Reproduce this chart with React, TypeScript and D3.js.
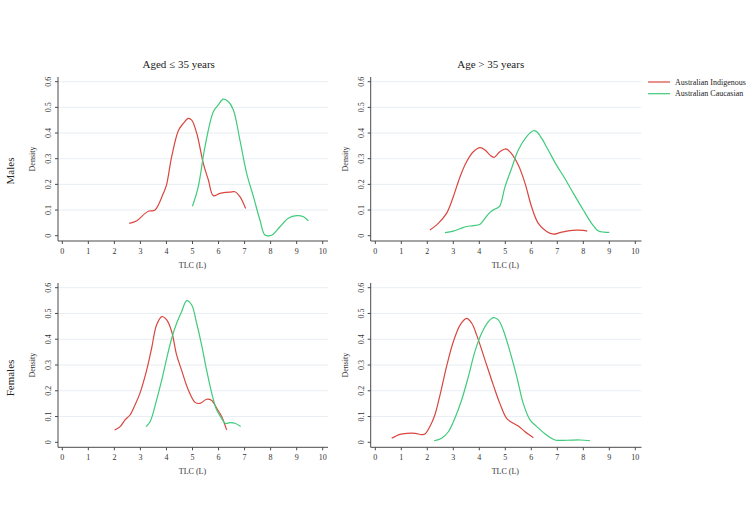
import React from "react";
import * as d3 from "d3";

type Pt = [number, number];

const xTicks = [0, 1, 2, 3, 4, 5, 6, 7, 8, 9, 10];
const yTicks = [0, 0.1, 0.2, 0.3, 0.4, 0.5, 0.6];
const columnTitles = ["Aged \u2264 35 years", "Age > 35 years"];
const rowTitles = ["Males", "Females"];
const seriesNames = ["Australian Indigenous", "Australian Caucasian"];
const seriesColors = ["#d9463f", "#3fcb7b"];

// Males, aged <= 35
const malesYoungIndigenous: Pt[] = [
  [2.57, 0.048], [2.86, 0.058], [3.18, 0.087], [3.33, 0.096], [3.56, 0.1], [3.88, 0.165],
  [4.0, 0.197], [4.2, 0.308], [4.46, 0.41], [4.65, 0.438], [4.84, 0.457], [4.97, 0.45],
  [5.16, 0.4], [5.42, 0.28], [5.61, 0.217], [5.8, 0.156], [6.05, 0.165], [6.44, 0.17],
  [6.63, 0.171], [6.82, 0.152], [7.04, 0.106],
];
const malesYoungCaucasian: Pt[] = [
  [5.0, 0.115], [5.22, 0.19], [5.48, 0.347], [5.8, 0.483], [5.99, 0.51], [6.18, 0.532],
  [6.38, 0.522], [6.57, 0.49], [6.82, 0.373], [7.08, 0.243], [7.34, 0.152], [7.59, 0.061],
  [7.78, 0.003], [7.98, 0.0], [8.1, 0.006], [8.36, 0.035], [8.68, 0.068], [9.0, 0.078],
  [9.26, 0.074], [9.45, 0.058],
];
// Males, aged > 35
const malesOldIndigenous: Pt[] = [
  [2.1, 0.022], [2.42, 0.048], [2.74, 0.087], [3.0, 0.152], [3.26, 0.23], [3.51, 0.288],
  [3.77, 0.327], [4.03, 0.343], [4.22, 0.334], [4.41, 0.314], [4.56, 0.305], [4.79, 0.327],
  [5.03, 0.338], [5.24, 0.32], [5.5, 0.275], [5.76, 0.204], [6.01, 0.113], [6.27, 0.048],
  [6.59, 0.016], [6.85, 0.006], [7.1, 0.012], [7.42, 0.019], [7.74, 0.022], [8.0, 0.021],
  [8.15, 0.018],
];
const malesOldCaucasian: Pt[] = [
  [2.68, 0.012], [3.0, 0.018], [3.26, 0.027], [3.51, 0.036], [3.77, 0.039], [4.03, 0.045],
  [4.22, 0.068], [4.41, 0.091], [4.6, 0.104], [4.77, 0.113], [4.99, 0.191], [5.24, 0.262],
  [5.5, 0.334], [5.82, 0.386], [6.08, 0.409], [6.21, 0.405], [6.4, 0.379], [6.65, 0.334],
  [6.97, 0.275], [7.29, 0.223], [7.62, 0.165], [8.0, 0.1], [8.32, 0.048], [8.58, 0.018],
  [8.8, 0.014], [9.0, 0.013],
];
// Females, aged <= 35
const femalesYoungIndigenous: Pt[] = [
  [2.01, 0.048], [2.22, 0.061], [2.41, 0.087], [2.6, 0.106], [2.79, 0.145], [2.98, 0.19],
  [3.24, 0.28], [3.43, 0.365], [3.62, 0.455], [3.82, 0.488], [4.01, 0.475], [4.2, 0.43],
  [4.39, 0.339], [4.58, 0.28], [4.84, 0.203], [5.1, 0.155], [5.29, 0.151], [5.54, 0.167],
  [5.74, 0.162], [5.93, 0.132], [6.12, 0.1], [6.31, 0.048],
];
const femalesYoungCaucasian: Pt[] = [
  [3.21, 0.061], [3.37, 0.08], [3.62, 0.164], [3.82, 0.242], [4.01, 0.326], [4.2, 0.403],
  [4.39, 0.462], [4.58, 0.507], [4.78, 0.55], [4.97, 0.533], [5.16, 0.462], [5.35, 0.378],
  [5.54, 0.281], [5.74, 0.19], [5.93, 0.125], [6.12, 0.093], [6.25, 0.074], [6.44, 0.076],
  [6.63, 0.074], [6.85, 0.061],
];
// Females, aged > 35
const femalesOldIndigenous: Pt[] = [
  [0.63, 0.016], [0.95, 0.031], [1.21, 0.035], [1.53, 0.035], [1.78, 0.03], [1.91, 0.032],
  [2.1, 0.061], [2.29, 0.106], [2.49, 0.184], [2.74, 0.294], [3.0, 0.39], [3.26, 0.455],
  [3.51, 0.481], [3.71, 0.462], [3.9, 0.416], [4.22, 0.319], [4.54, 0.222], [4.79, 0.151],
  [5.05, 0.093], [5.24, 0.078], [5.5, 0.063], [5.76, 0.041], [6.08, 0.018],
];
const femalesOldCaucasian: Pt[] = [
  [2.26, 0.006], [2.55, 0.016], [2.81, 0.041], [3.06, 0.093], [3.32, 0.164], [3.58, 0.255],
  [3.83, 0.352], [4.09, 0.423], [4.35, 0.468], [4.54, 0.484], [4.73, 0.475], [4.92, 0.436],
  [5.18, 0.352], [5.44, 0.255], [5.69, 0.151], [5.95, 0.087], [6.21, 0.061], [6.59, 0.028],
  [6.91, 0.009], [7.36, 0.008], [7.87, 0.009], [8.26, 0.006],
];

const panelData: Pt[][][][] = [
  [
    [malesYoungIndigenous, malesYoungCaucasian],
    [malesOldIndigenous, malesOldCaucasian],
  ],
  [
    [femalesYoungIndigenous, femalesYoungCaucasian],
    [femalesOldIndigenous, femalesOldCaucasian],
  ],
];

const W = 749;
const H = 530;
const FONT = "'Liberation Serif', 'Times New Roman', serif";

// layout
const colAxisX = [58, 370.7];
const colX0 = [62.3, 375.3];
const colX10 = [322.7, 635.3];
const colRight = [328, 641.5];
const rowY0 = [235.7, 442.3];
const rowY06 = [81.7, 287.7];
const rowAxisY = [241, 447.3];
const rowTop = [77, 283];

function Panel({ r, c }: { r: number; c: number }) {
  const x = d3.scaleLinear().domain([0, 10]).range([colX0[c], colX10[c]]);
  const y = d3.scaleLinear().domain([0, 0.6]).range([rowY0[r], rowY06[r]]);
  const line = d3
    .line<Pt>()
    .x((d) => x(d[0]))
    .y((d) => y(d[1]))
    .curve(d3.curveCatmullRom.alpha(0.5));
  const ax = colAxisX[c];
  const ay = rowAxisY[r];
  const axisColor = "#4a4a4a";
  return (
    <g>
      {yTicks
        .filter((t) => t > 0)
        .map((t) => (
          <line key={"g" + t} x1={ax} x2={colRight[c]} y1={y(t)} y2={y(t)} stroke="#e8eef3" strokeWidth={1} />
        ))}
      <line x1={ax} x2={ax} y1={rowTop[r]} y2={ay} stroke={axisColor} strokeWidth={1} />
      <line x1={ax} x2={colRight[c]} y1={ay} y2={ay} stroke={axisColor} strokeWidth={1} />
      {yTicks.map((t) => (
        <g key={"y" + t}>
          <line x1={ax - 3} x2={ax} y1={y(t)} y2={y(t)} stroke={axisColor} strokeWidth={1} />
          <text
            transform={`translate(${ax - 9.5},${y(t)}) rotate(-90)`}
            textAnchor="middle"
            dominantBaseline="central"
            fontFamily={FONT}
            fontSize={8}
            fill="#333"
          >
            {t === 0 ? "0" : d3.format(".1f")(t)}
          </text>
        </g>
      ))}
      {xTicks.map((t) => (
        <g key={"x" + t}>
          <line x1={x(t)} x2={x(t)} y1={ay} y2={ay + 3} stroke={axisColor} strokeWidth={1} />
          <text
            x={x(t)}
            y={ay + 10}
            textAnchor="middle"
            dominantBaseline="central"
            fontFamily={FONT}
            fontSize={8}
            fill="#333"
          >
            {t}
          </text>
        </g>
      ))}
      <text
        transform={`translate(${ax - 25.5},${(rowTop[r] + ay) / 2}) rotate(-90)`}
        textAnchor="middle"
        dominantBaseline="central"
        fontFamily={FONT}
        fontSize={8}
        fill="#333"
      >
        Density
      </text>
      <text
        x={(colX0[c] + colX10[c]) / 2}
        y={ay + 24}
        textAnchor="middle"
        dominantBaseline="central"
        fontFamily={FONT}
        fontSize={8}
        fill="#333"
      >
        TLC (L)
      </text>
      {panelData[r][c].map((s, i) => (
        <path key={"s" + i} d={line(s) || ""} fill="none" stroke={seriesColors[i]} strokeWidth={1.2} />
      ))}
    </g>
  );
}

export default function App() {
  return (
    <svg
      width={W}
      height={H}
      viewBox={`0 0 ${W} ${H}`}
      style={{ position: "absolute", left: 0, top: 0, background: "#fff" }}
    >
      <rect x={0} y={0} width={W} height={H} fill="#fff" />
      {columnTitles.map((t, c) => (
        <text
          key={t}
          x={c === 0 ? 178.7 : 490.7}
          y={63.7}
          textAnchor="middle"
          dominantBaseline="central"
          fontFamily={FONT}
          fontSize={11}
          fill="#222"
        >
          {t}
        </text>
      ))}
      {rowTitles.map((t, r) => (
        <text
          key={t}
          transform={`translate(9.5,${r === 0 ? 171 : 378}) rotate(-90)`}
          textAnchor="middle"
          dominantBaseline="central"
          fontFamily={FONT}
          fontSize={11}
          fill="#222"
        >
          {t}
        </text>
      ))}
      {[0, 1].map((r) => [0, 1].map((c) => <Panel key={`${r}-${c}`} r={r} c={c} />))}
      {seriesNames.map((n, i) => (
        <g key={n}>
          <line x1={648} x2={670} y1={82 + i * 11.7} y2={82 + i * 11.7} stroke={seriesColors[i]} strokeWidth={1.2} />
          <text
            x={675}
            y={82 + i * 11.7}
            dominantBaseline="central"
            fontFamily={FONT}
            fontSize={8}
            fill="#222"
          >
            {n}
          </text>
        </g>
      ))}
    </svg>
  );
}
